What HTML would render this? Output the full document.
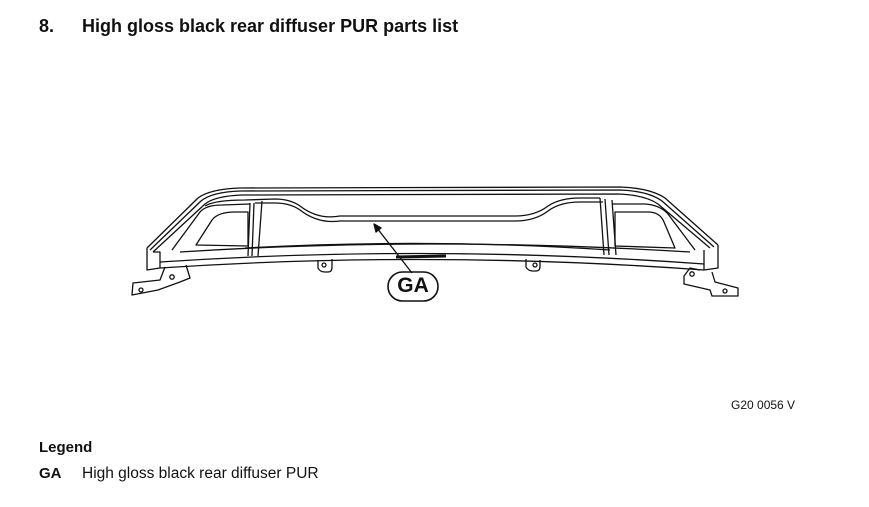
<!DOCTYPE html>
<html><head><meta charset="utf-8"><style>
body{margin:0;width:869px;height:507px;background:#fff;font-family:"Liberation Sans",sans-serif;color:#111;position:relative;overflow:hidden}
.t{position:absolute;font-weight:bold;font-size:18px;top:16px}
</style></head><body>
<div class="t" style="left:39px">8.</div>
<div class="t" style="left:82px">High gloss black rear diffuser PUR parts list</div>
<svg width="869" height="507" style="position:absolute;left:0;top:0" fill="none" stroke="#111" stroke-width="1.3" stroke-linejoin="round">
<path d="M147,248 L198,198 Q210,189 240,188 L620,187 Q650,188 665,198 L718,245"/>
<path d="M150,250 L201,201 Q212,192 240,191 L620,190 Q648,191 662,201 L714,247"/>
<path d="M153,252 L205,204 Q215,196 242,195 L618,194 Q645,195 658,204 L710,248"/>
<path d="M147,248 L147,270 L160,268 L160,252 L153,252"/>
<path d="M718,245 L718,268 L704,270 L704,250"/>
<path d="M160,268 Q430,250 704,270"/>
<path d="M160,262 Q430,244 704,264"/>
<path d="M180,252 Q430,236 690,252"/>
<path d="M245,248 Q430,238 610,250"/>
<path d="M205,206 Q215,200 245,200 L275,199 Q290,199 300,206 Q318,220 340,216 L515,216 Q535,216 548,206 Q560,198 580,198 L600,198"/>
<path d="M255,203 L275,203 Q290,203 300,210 Q318,224 340,221 L515,221 Q535,221 548,211 Q560,202 580,202 L603,202"/>
<path d="M196,245 L212,220 Q218,212 235,212 L248,212 L248,246 Z"/>
<path d="M172,250 L200,212 Q206,205 222,205 L250,204"/>
<path d="M615,212 L648,212 Q660,212 664,222 L675,248 L615,246 Z"/>
<path d="M612,204 L645,204 Q660,205 668,214 L695,250"/>
<path d="M250,203 L248,256 M254,203 L252,256 M262,201 L258,256"/>
<path d="M600,198 L604,255 M605,199 L609,255 M612,200 L616,255"/>
<path d="M318,260 L318,268 Q320,272 325,272 L328,272 Q332,272 332,267 L332,259"/>
<circle cx="324" cy="265" r="2"/>
<path d="M526,259 L526,267 Q528,271 533,271 L536,271 Q540,271 540,266 L540,260"/>
<circle cx="535" cy="265" r="2"/>
<path d="M165,267 L160,280 L133,283 L132,295 L158,290 L180,282 L190,278 L186,265"/>
<circle cx="141" cy="290" r="2"/><circle cx="172" cy="277" r="2.2"/>
<path d="M700,270 L690,268 L684,276 L684,284 L710,290 L712,296 L738,296 L738,288 L715,282 L712,272"/>
<circle cx="692" cy="274" r="2.2"/><circle cx="725" cy="291" r="2"/>
<path d="M396,257 L446,256" stroke-width="3"/>
<path d="M412,273 L377,228"/>
<path d="M374,224 L381,228 L376,232 Z" fill="#111"/>
<rect x="388" y="272" width="50" height="29" rx="14.5" stroke-width="1.6"/>
</svg>
<div style="position:absolute;left:388px;top:274px;width:50px;text-align:center;font-weight:900;font-size:21px">GA</div>
<div style="position:absolute;left:731px;top:398px;font-size:12px">G20 0056 V</div>
<div style="position:absolute;left:39px;top:439px;font-weight:bold;font-size:15px">Legend</div>
<div style="position:absolute;left:39px;top:465px;font-weight:bold;font-size:15px">GA</div>
<div style="position:absolute;left:82px;top:465px;font-size:15.5px">High gloss black rear diffuser PUR</div>
</body></html>
